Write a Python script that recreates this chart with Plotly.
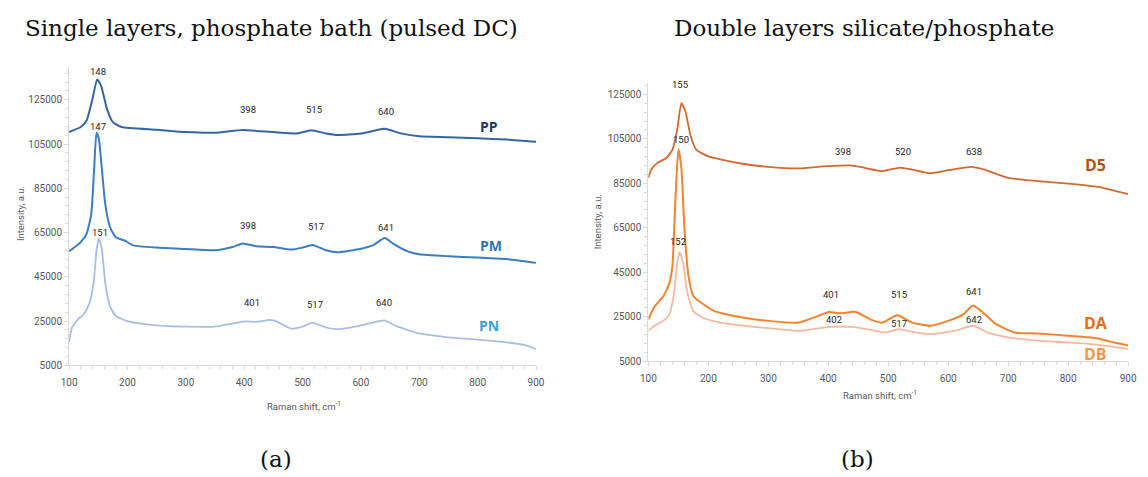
import plotly.graph_objects as go

# ---------------- data (a) ----------------
pp_x = [100,120,130,140,148,155,165,175,190,250,300,350,398,450,490,515,540,560,600,640,670,700,750,800,850,900]
pp_y = [110400,112660,115600,125300,134200,131200,120800,114900,112700,111500,110400,110100,111300,110400,
        109800,111200,109800,109100,109700,111900,109700,108500,108100,107600,107000,106000]

pm_x = [100,110,120,130,138,143,147,151,156,162,170,180,195,210,250,300,350,380,398,420,450,480,500,517,540,
        560,600,620,641,655,680,700,750,800,850,900]
pm_y = [56530,58460,60700,64400,73300,94100,110100,107500,94100,77800,67400,62900,61400,59200,58200,57600,57000,
        58500,60100,58800,58500,57300,58200,59400,57000,56100,57700,59200,62500,60000,56500,55200,54300,53700,
        53000,51300]

pn_x = [100,105,115,125,135,142,147,151,156,162,170,180,200,230,260,300,350,380,401,420,445,460,480,500,517,540,
        560,590,620,640,660,700,750,800,850,880,900]
pn_y = [15400,22100,25800,28000,33200,42100,57000,62200,57700,42100,31700,27300,25000,23600,22800,22500,22500,
        23900,24900,24600,25500,24300,21600,22500,24300,22100,21300,22500,24300,25300,22800,19400,17600,16600,
        15400,14200,12400]

# ---------------- data (b) ----------------
d5_x = [100,105,115,130,140,148,155,162,170,180,200,230,260,300,350,398,440,460,490,520,540,570,600,638,660,700,
        750,800,850,900]
d5_y = [87500,91200,94200,96400,100100,109000,121100,117100,106800,100100,97100,95200,93700,92400,91700,92700,
        93000,92000,90500,92100,91200,89600,90900,92400,91200,87500,86000,84900,83400,80100]

da_x = [100,110,125,135,140,145,150,155,160,167,175,190,210,250,300,350,380,401,420,445,470,490,515,540,570,600,
        625,641,655,680,710,750,800,850,880,900]
da_y = [23800,29400,34200,40100,47500,77100,100400,92000,65300,43100,34200,30900,27500,25000,23100,22300,25000,
        27100,26500,27200,23800,22300,25600,22300,20900,23100,26000,30000,27500,21600,17900,17400,16400,15200,
        13100,12000]

db_x = [100,110,125,135,142,148,152,158,165,175,190,220,260,300,350,402,440,470,495,517,540,570,610,642,665,700,
        750,800,850,900]
db_y = [18600,20900,23100,26000,34200,49000,54000,49000,35700,27500,24600,22300,20900,19800,18600,20400,20400,
        19100,17900,19400,18200,17100,18600,20900,17900,15700,14200,13400,12300,10500]

y_ticks = [5000, 25000, 45000, 65000, 85000, 105000, 125000]
x_ticks = [100, 200, 300, 400, 500, 600, 700, 800, 900]

# peak labels: (text, x, y)
peaks_a = [("148", 150, 137900), ("398", 407, 120800), ("515", 520, 120400), ("640", 643, 119800),
           ("147", 150, 113100), ("398", 407, 68100), ("517", 523, 67700), ("641", 643, 67400),
           ("151", 153, 65100), ("401", 414, 33500), ("517", 521, 32500), ("640", 640, 33200)]
peaks_b = [("155", 153, 129300), ("398", 424, 99100), ("520", 525, 99400), ("638", 643, 99400),
           ("150", 154, 104800), ("152", 150, 58600), ("401", 404, 34900), ("515", 518, 34900),
           ("641", 643, 36300), ("402", 409, 23500), ("517", 518, 22000), ("642", 643, 23800)]

# series name labels: (text, x, y, colour, size)
names_a = [("PP", 819, 113000, "#1F3864", 14), ("PM", 822, 59300, "#2E75B6", 14), ("PN", 820, 23000, "#3BA0DC", 14)]
names_b = [("D5", 845, 93100, "#B5520F", 16), ("DA", 846, 22000, "#EC6A16", 16), ("DB", 845, 8200, "#F79646", 16)]

W, H = 1148, 477
def px(x):
    return x / W
def py(y):
    return 1 - y / H

fig = go.Figure()
def line(xs, ys, color, width, xa, ya):
    fig.add_trace(go.Scatter(x=xs, y=ys, mode="lines", xaxis=xa, yaxis=ya,
                             line=dict(color=color, width=width, shape="spline", smoothing=0.5)))

line(pp_x, pp_y, "#3465A8", 2, "x", "y")
line(pm_x, pm_y, "#3B7CC5", 2, "x", "y")
line(pn_x, pn_y, "#A8BEE2", 1.8, "x", "y")
line(d5_x, d5_y, "#D2692E", 1.8, "x2", "y2")
line(da_x, da_y, "#F5822F", 2, "x2", "y2")
line(db_x, db_y, "#F8B8A0", 1.8, "x2", "y2")

tickfont = dict(family="Roboto", size=10, color="#595959")
axcommon = dict(showgrid=False, zeroline=False, showline=True, linecolor="#D9D9D9", linewidth=1,
                ticks="outside", ticklen=4, tickcolor="#D9D9D9", tickfont=tickfont, fixedrange=True,
                tickformat="d")
minor_x = dict(dtick=20, tick0=100, ticks="outside", ticklen=3, tickcolor="#D9D9D9")
minor_y = dict(dtick=4000, tick0=5000, ticks="outside", ticklen=3, tickcolor="#D9D9D9")

fig.update_layout(
    width=W, height=H, margin=dict(l=0, r=0, t=0, b=0),
    paper_bgcolor="white", plot_bgcolor="white", showlegend=False,
    xaxis=dict(axcommon, domain=[px(62), px(536)], range=[100, 900], tickvals=x_ticks, anchor="y",
               minor=minor_x, ticklabelstandoff=4),
    yaxis=dict(axcommon, domain=[py(370), py(67.4)], range=[5000, 140000], tickvals=y_ticks, anchor="x",
               minor=minor_y),
    xaxis2=dict(axcommon, domain=[px(650), px(1137)], range=[100, 900], tickvals=x_ticks, anchor="y2",
                minor=minor_x, ticklabelstandoff=4),
    yaxis2=dict(axcommon, domain=[py(365.7), py(84.4)], range=[5000, 130000], tickvals=y_ticks, anchor="x2",
                minor=minor_y),
)

ann = []
for t, x, y in peaks_a:
    ann.append(dict(x=x, y=y, xref="x", yref="y", text=t, showarrow=False,
                    font=dict(family="Roboto", size=9.5, color="#262626")))
for t, x, y in peaks_b:
    ann.append(dict(x=x, y=y, xref="x2", yref="y2", text=t, showarrow=False,
                    font=dict(family="Roboto", size=9.5, color="#262626")))
for t, x, y, c, s in names_a:
    ann.append(dict(x=x, y=y, xref="x", yref="y", text="<b>" + t + "</b>", showarrow=False,
                    font=dict(family="Open Sans", size=s, color=c)))
for t, x, y, c, s in names_b:
    ann.append(dict(x=x, y=y, xref="x2", yref="y2", text="<b>" + t + "</b>", showarrow=False,
                    font=dict(family="Open Sans", size=s, color=c)))

axtitle = dict(family="Roboto", size=9.5, color="#595959")
serif = dict(family="DejaVu Serif", size=23, color="#111111")
def pann(x, y, text, font, angle=0):
    return dict(x=px(x), y=py(y), xref="paper", yref="paper", text=text, showarrow=False,
                xanchor="center", yanchor="middle", textangle=angle, font=font)

ann += [
    pann(300, 411, "Raman shift, cm<sup>-1</sup>", axtitle),
    pann(885, 400, "Raman shift, cm<sup>-1</sup>", axtitle),
    pann(12, 216, "Intensity, a.u.", axtitle, -90),
    pann(598, 225, "Intensity, a.u.", axtitle, -90),
    pann(267, 28, "Single layers, phosphate bath (pulsed DC)", serif),
    pann(869, 28, "Double layers silicate/phosphate", serif),
    pann(272, 465, "(a)", serif),
    pann(862, 465, "(b)", serif),
]
fig.update_layout(annotations=ann)

fig.write_html("out.html")
